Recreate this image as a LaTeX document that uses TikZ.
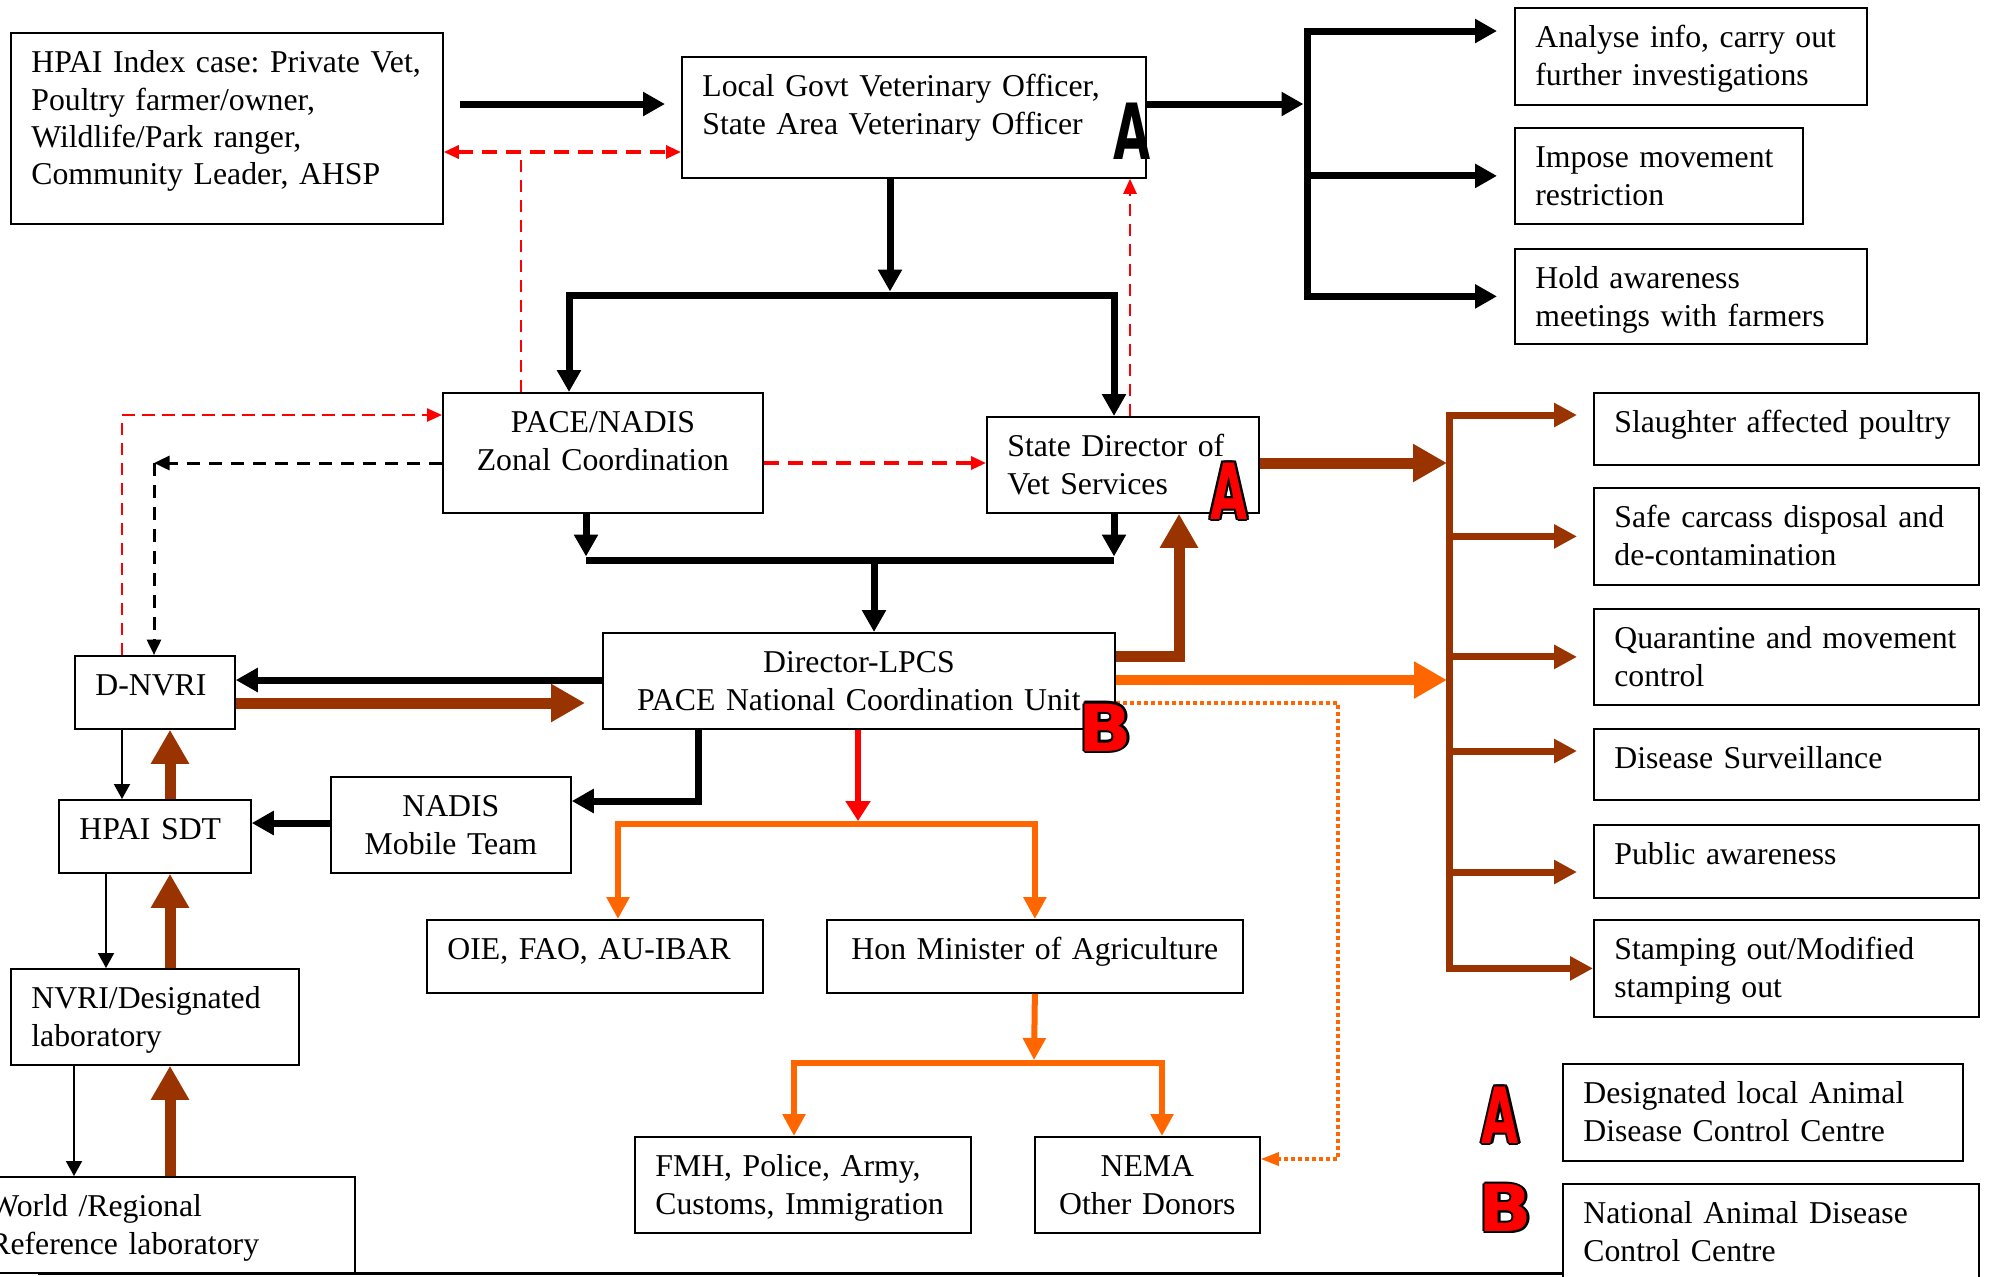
\documentclass[tikz,border=0pt]{standalone}
\usepackage{fontspec}
\setmainfont{Liberation Serif}
\newfontfamily\markfont{DejaVu Sans}
\usepackage{graphicx}
\usepackage{xcolor}
\usetikzlibrary{arrows.meta}
\definecolor{rust}{HTML}{993300}
\definecolor{amber}{HTML}{FF6600}
\newcommand{\rimtext}[1]{\leavevmode\begingroup
  \def\rimat##1##2{\rlap{\hspace*{##1}\raisebox{##2}{\color{black}#1}}}%
  \rimat{0.9pt}{0pt}\rimat{-0.9pt}{0pt}\rimat{0pt}{0.9pt}\rimat{0pt}{-0.9pt}%
  \rimat{0.64pt}{0.64pt}\rimat{-0.64pt}{0.64pt}\rimat{0.64pt}{-0.64pt}\rimat{-0.64pt}{-0.64pt}%
  {\color{red}#1}\endgroup}
\newcommand{\letA}{\scalebox{0.62}[1]{\fontsize{31pt}{31pt}\selectfont A}}
\newcommand{\letB}{\scalebox{1.08}[1]{\fontsize{26pt}{26pt}\selectfont B}}
\tikzstyle{box}=[draw, line width=0.7pt, anchor=north west, align=left,
  inner xsep=8.2pt, inner ysep=0pt, text height=16pt,
  font=\fontsize{12.7pt}{14.9pt}\selectfont\frenchspacing]
\tikzstyle{cbox}=[box, align=center]
\tikzstyle{badge}=[inner sep=0pt, font=\markfont\bfseries]

\begin{document}
\begin{tikzpicture}[x=0.4pt, y=-0.4pt,
  bline/.style={line width=2.8pt},
  barrow/.style={line width=2.8pt, -{Triangle[length=8.8pt,width=9.2pt]}},
  tarrow/.style={line width=0.8pt, -{Triangle[length=6pt,width=6.4pt]}},
  rarrow/.style={rust, line width=4.4pt, -{Triangle[length=13.6pt,width=14.4pt]}},
  rbranch/.style={rust, line width=2.8pt, -{Triangle[length=9.2pt,width=9.2pt]}},
  oarrow/.style={amber, line width=4pt, -{Triangle[length=13.2pt,width=14pt]}},
  otree/.style={amber, line width=2.4pt, -{Triangle[length=8.8pt,width=8.8pt]}},
  rdown/.style={red, line width=2.4pt, -{Triangle[length=8pt,width=9.6pt]}},
  rdash/.style={red, line width=1.3pt, dash pattern=on 6pt off 3.6pt},
  rthin/.style={red, line width=1pt, dash pattern=on 5pt off 3pt},
  kdash/.style={line width=1.2pt, dash pattern=on 5.2pt off 3.6pt, -{Triangle[length=6.2pt,width=5.6pt]}},
  odot/.style={amber, line width=1.3pt, dash pattern=on 1.6pt off 1.2pt, -{Triangle[length=7.2pt,width=5.2pt]}},
  rtip/.style={-{Triangle[length=6pt,width=5.2pt]}}]
\useasboundingbox (0,0) rectangle (1992,1276);

\node[box, text width=156.4pt, text depth=60.4pt] (idx) at (10,32)
  {HPAI Index case: Private Vet,\\Poultry farmer/owner,\\Wildlife/Park ranger,\\Community Leader, AHSP};
\node[box, text width=169.2pt, text depth=32.4pt] (lgvo) at (681,56)
  {Local Govt Veterinary Officer,\\State Area Veterinary Officer};
\node[box, text width=124.4pt, text depth=22.8pt] (ana) at (1514,7) {Analyse info, carry out\\further investigations};
\node[box, text width=98.8pt, text depth=22.4pt] (imp) at (1514,127) {Impose movement\\restriction};
\node[box, text width=124.4pt, text depth=22pt] (hold) at (1514,248) {Hold awareness\\meetings with farmers};
\node[cbox, text width=111.6pt, text depth=32pt] (pace) at (442,392) {PACE/NADIS\\Zonal Coordination};
\node[box, text width=92.4pt, text depth=22.4pt] (sd) at (986,416) {State Director of\\Vet Services};
\node[cbox, text width=188.4pt, text depth=22.4pt] (dir) at (602,632) {Director-LPCS\\PACE National Coordination Unit};
\node[box, text width=47.6pt, text depth=13.2pt] (dnvri) at (74,655) {D-NVRI};
\node[box, text width=60.4pt, text depth=13.2pt] (sdt) at (58,799) {HPAI SDT};
\node[cbox, text width=79.6pt, text depth=22.4pt] (nadis) at (330,776) {NADIS\\Mobile Team};
\node[box, text width=98.8pt, text depth=22.4pt] (nvri) at (10,968) {NVRI/Designated\\laboratory};
\node[box, text width=138pt, text depth=22.4pt] (world) at (-32,1176) {World /Regional\\Reference laboratory};
\node[box, text width=118pt, text depth=13.2pt] (oie) at (426,919) {OIE, FAO, AU-IBAR};
\node[cbox, text width=150pt, text depth=13.2pt] (hon) at (826,919) {Hon Minister of Agriculture};
\node[box, text width=118pt, text depth=22.4pt] (fmh) at (634,1136) {FMH, Police, Army,\\Customs, Immigration};
\node[cbox, text width=73.6pt, text depth=22.4pt] (nema) at (1034,1136) {NEMA\\Other Donors};
\node[box, text width=137.6pt, text depth=12.8pt] (sla) at (1593,392) {Slaughter affected poultry};
\node[box, text width=137.6pt, text depth=22.8pt] (saf) at (1593,487) {Safe carcass disposal and\\de-contamination};
\node[box, text width=137.6pt, text depth=22.4pt] (qua) at (1593,608) {Quarantine and movement\\control};
\node[box, text width=137.6pt, text depth=12.4pt] (sur) at (1593,728) {Disease Surveillance};
\node[box, text width=137.6pt, text depth=13.2pt] (pub) at (1593,824) {Public awareness};
\node[box, text width=137.6pt, text depth=22.8pt] (sta) at (1593,919) {Stamping out/Modified\\stamping out};
\node[box, text width=143.6pt, text depth=22.8pt] (lega) at (1562,1063) {Designated local Animal\\Disease Control Centre};
\node[box, text width=150pt, text depth=22.8pt] (legb) at (1562,1183) {National Animal Disease\\Control Centre};

\draw[barrow, shorten <=6.4pt, shorten >=6.4pt] (idx.east |- 0,104) -- (lgvo.west |- 0,104);
\draw[rdash, {Triangle[length=6pt,width=5.2pt]}-{Triangle[length=6pt,width=5.2pt]}] (idx.east |- 0,152) -- (lgvo.west |- 0,152);
\coordinate (rj) at (521,152);
\draw[rthin] (pace.north -| rj) -- (rj);
\coordinate (j1) at (890,295);
\draw[barrow, shorten >=1.4pt] (lgvo.south -| j1) -- (j1);
\draw[barrow] (j1) -| (pace.north -| 569,0);
\draw[barrow] (j1) -| (sd.north -| 1114,0);
\draw[rthin, rtip] (sd.north -| 1130,0) -- (lgvo.south -| 1130,0);
\coordinate (j2) at (1307,104);
\draw[barrow, shorten >=1.4pt] (lgvo.east |- j2) -- (j2);
\draw[barrow, shorten >=6.8pt] (j2) |- (ana.west |- 0,31);
\draw[barrow, shorten >=6.8pt] (j2 |- imp.west) -- (imp.west);
\draw[barrow, shorten >=6.8pt] (j2) |- (hold.west);

\draw[rdash, rtip] (pace.east |- 0,463) -- (sd.west |- 0,463);
\coordinate (kc) at (154,463);
\draw[kdash] (pace.west |- kc) -- (kc);
\draw[kdash] (kc) -- (dnvri.north -| kc);
\draw[rthin, rtip] (dnvri.north -| 122,0) |- (pace.west |- 0,415);
\coordinate (j3) at (874,560);
\draw[barrow, shorten >=1.4pt] (pace.south -| 586,0) -- (j3 -| 586,0);
\draw[barrow, shorten >=1.4pt] (sd.south -| 1114,0) -- (j3 -| 1114,0);
\draw[bline] (j3 -| 586,0) -- (j3 -| 1114,0);
\draw[barrow] (j3) -- (dir.north -| j3);

\draw[barrow] (dir.west |- 0,680) -- (dnvri.east |- 0,680);
\draw[rarrow, shorten >=6.8pt] (dnvri.east |- 0,703) -- (dir.west |- 0,703);
\draw[rarrow] (dir.east |- 0,656) -| (sd.south -| 1179,0);
\coordinate (j4) at (1449,463);
\draw[rarrow, shorten >=0.8pt] (sd.east |- j4) -- (j4);
\draw[oarrow, shorten >=0.8pt] (dir.east |- 0,680) -- (j4 |- 0,680);
\coordinate (od) at (1338,703);
\draw[odot] (dir.east |- od) -- (od) |- (nema.east |- 0,1159);
\draw[barrow] (dir.south -| 698,0) |- (nadis.east |- 0,801);
\draw[barrow] (nadis.west |- 0,823) -- (sdt.east |- 0,823);

\draw[rbranch, shorten >=6.4pt] (j4) |- (sla.west |- 0,415);
\draw[rbranch, shorten >=6.4pt] (j4 |- saf.west) -- (saf.west);
\draw[rbranch, shorten >=6.4pt] (j4 |- qua.west) -- (qua.west);
\draw[rbranch, shorten >=6.4pt] (j4 |- 0,751) -- (sur.west |- 0,751);
\draw[rbranch, shorten >=6.4pt] (j4 |- 0,872) -- (pub.west |- 0,872);
\draw[rbranch] (j4) |- (sta.west);

\draw[tarrow] (dnvri.south -| 122,0) -- (sdt.north -| 122,0);
\draw[rarrow] (sdt.north -| 170,0) -- (dnvri.south -| 170,0);
\draw[tarrow] (sdt.south -| 106,0) -- (nvri.north -| 106,0);
\draw[rarrow] (nvri.north -| 170,0) -- (sdt.south -| 170,0);
\draw[tarrow] (nvri.south -| 74,0) -- (world.north -| 74,0);
\draw[rarrow] (world.north -| 170,0) -- (nvri.south -| 170,0);

\coordinate (j5) at (858,824);
\draw[rdown, shorten >=1.2pt] (dir.south -| j5) -- (j5);
\draw[otree] (j5) -| (oie.north -| 618,0);
\draw[otree] (j5) -| (hon.north);
\coordinate (j6) at (1034,1063);
\draw[otree, shorten >=1.2pt] (hon.south) -- (j6);
\draw[otree] (j6) -| (fmh.north -| 794,0);
\draw[otree] (j6) -| (nema.north -| 1162,0);

\node[badge] (tagA) at (1132,131.5) {\letA};
\node[badge] (tagAsd) at (1229,491) {\rimtext{\letA}};
\node[badge] (tagB) at (1105.5,727.5) {\rimtext{\letB}};
\node[badge] (keyA) at (1500.5,1115) {\rimtext{\letA}};
\node[badge] (keyB) at (1505.5,1208) {\rimtext{\letB}};
\draw[line width=1.2pt] (38,1273) -- (legb.west |- 0,1273);
\end{tikzpicture}
\end{document}
